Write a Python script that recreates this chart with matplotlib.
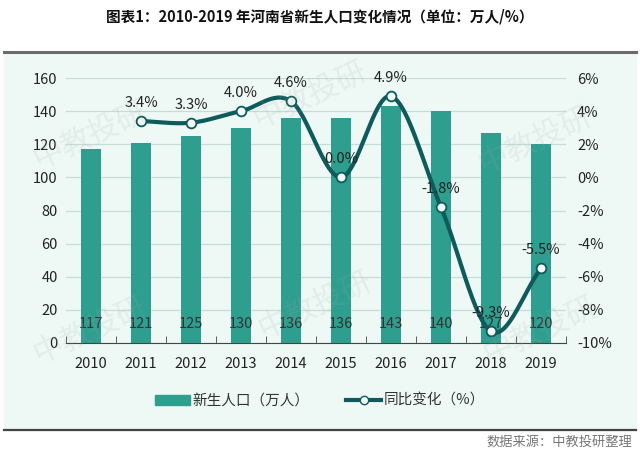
import matplotlib.pyplot as plt
import numpy as np
from matplotlib.lines import Line2D
from matplotlib.patches import Patch, Rectangle

plt.rcParams['font.family'] = ['Noto Sans CJK SC', 'DejaVu Sans']

years = ['2010', '2011', '2012', '2013', '2014', '2015', '2016', '2017', '2018', '2019']
births = [117, 121, 125, 130, 136, 136, 143, 140, 127, 120]
yoy_years = ['2011', '2012', '2013', '2014', '2015', '2016', '2017', '2018', '2019']
yoy = [3.4, 3.3, 4.0, 4.6, 0.0, 4.9, -1.8, -9.3, -5.5]

bar_color = '#2e9e8f'
line_color = '#0e5a5c'
bg_color = '#eef9f5'


def smooth(x, y, n=30):
    # Catmull-Rom curve through the points, like Excel's smoothed line
    x = np.asarray(x, float)
    y = np.asarray(y, float)
    px = np.concatenate([[2 * x[0] - x[1]], x, [2 * x[-1] - x[-2]]])
    py = np.concatenate([[2 * y[0] - y[1]], y, [2 * y[-1] - y[-2]]])
    xs, ys = [], []
    t = np.linspace(0, 1, n)
    for i in range(1, len(px) - 2):
        for p, out in ((px, xs), (py, ys)):
            p0, p1, p2, p3 = p[i - 1], p[i], p[i + 1], p[i + 2]
            out.extend(0.5 * (2 * p1 + (-p0 + p2) * t
                              + (2 * p0 - 5 * p1 + 4 * p2 - p3) * t ** 2
                              + (-p0 + 3 * p1 - 3 * p2 + p3) * t ** 3))
    return np.array(xs), np.array(ys)


fig = plt.figure(figsize=(6.4, 4.57), dpi=100)

# background panel and separator lines
fig.patches.append(Rectangle((4 / 640, 1 - 430 / 457), 632 / 640, 377 / 457,
                             transform=fig.transFigure, color=bg_color, zorder=-5))
fig.add_artist(Line2D([4 / 640, 636 / 640], [1 - 52 / 457] * 2, color='#6b6b6b', lw=2.2))
fig.add_artist(Line2D([4 / 640, 636 / 640], [1 - 430 / 457] * 2, color='#444444', lw=1.6))

fig.text(0.5, 1 - 17 / 457, '图表1：2010-2019 年河南省新生人口变化情况（单位：万人/%）',
         ha='center', va='center', fontsize=10.5, fontweight='bold', color='#111111')
fig.text(632 / 640, 1 - 442 / 457, '数据来源：中教投研整理', ha='right', va='center',
         fontsize=9.5, color='#777777')

ax = fig.add_axes([66 / 640, 1 - 343 / 457, 500 / 640, 265 / 457])
ax.patch.set_visible(False)
x = np.arange(len(years))
ax.bar(x, births, width=0.4, color=bar_color, zorder=2)
for xi, v in zip(x, births):
    ax.annotate(str(v), (xi, 0), xytext=(0, 14), textcoords='offset points',
                ha='center', va='center', fontsize=10.5, color='#333333', zorder=5)

ax.set_ylim(0, 160)
ax.set_yticks(range(0, 161, 20))
ax.set_xlim(-0.5, len(years) - 0.5)
ax.set_xticks(x)
ax.set_xticklabels(years)
ax.set_xticks(np.arange(-0.5, len(years), 1), minor=True)
ax.tick_params(axis='x', which='major', length=0, pad=10, labelsize=10.5, labelcolor='#222222')
ax.tick_params(axis='x', which='minor', length=5, color='#444444', direction='in')
ax.tick_params(axis='y', length=0, labelsize=10.5, labelcolor='#222222', pad=6)
ax.grid(axis='y', color='#c6ddd7', lw=0.9, zorder=0)
for s in ['top', 'right', 'left']:
    ax.spines[s].set_visible(False)
ax.spines['bottom'].set_color('#444444')
ax.spines['bottom'].set_zorder(4)

ax2 = ax.twinx()
ax2.set_ylim(-10, 6)
ax2.set_yticks(range(-10, 7, 2))
ax2.set_yticklabels([f'{v}%' for v in range(-10, 7, 2)])
ax2.tick_params(axis='y', length=0, labelsize=10.5, labelcolor='#222222', pad=8)
for s in ax2.spines.values():
    s.set_visible(False)

lx = np.array([years.index(y) for y in yoy_years])
sx, sy = smooth(lx, yoy)
ax2.plot(sx, sy, color=line_color, lw=3, zorder=3, solid_capstyle='round')
ax2.plot(lx, yoy, 'o', ms=7, mfc='#f2fbf8', mec=line_color, mew=1.3, zorder=4)
for xi, v in zip(lx, yoy):
    ax2.annotate(f'{v:.1f}%', (xi, v), xytext=(0, 13), textcoords='offset points',
                 ha='center', va='center', fontsize=10.5, color='#222222', zorder=5)

# faint watermarks
for wx, wy in [(90, 135), (310, 95), (535, 140), (90, 330), (315, 305), (540, 330)]:
    fig.text(wx / 640, 1 - wy / 457, '中教投研', ha='center', va='center', rotation=25,
             fontsize=22, color='#a0a8a5', alpha=0.15, zorder=10)

handles = [Patch(color=bar_color),
           Line2D([], [], color=line_color, lw=3, marker='o', ms=6,
                  mfc='#f2fbf8', mec=line_color)]
fig.legend(handles, ['新生人口（万人）', '同比变化（%）'], loc='center',
           bbox_to_anchor=(0.5, 1 - 401 / 457), ncol=2, frameon=False,
           fontsize=10.5, handlelength=2.4, columnspacing=2.5, handletextpad=0.2,
           labelcolor='#333333')

fig.savefig('out.png', dpi=100)
